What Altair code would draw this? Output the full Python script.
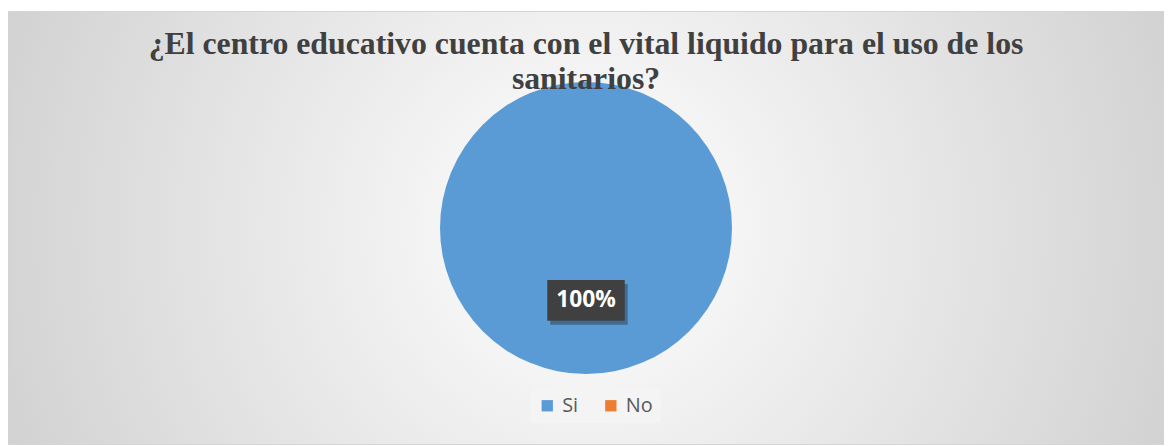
import altair as alt
import pandas as pd

categories = ["Si", "No"]
values = [100, 0]
labels = ["100%", "0%"]
colors = ["#5B9BD5", "#ED7D31"]

df = pd.DataFrame({"cat": categories, "val": values, "lab": labels,
                   "order": list(range(len(categories)))})

base = alt.Chart(df)

theta = alt.Theta("val:Q", stack=True)

bg = base.transform_filter("datum.val > 0").mark_rect(
    color=alt.Gradient(
        gradient="radial", x1=0.5, y1=0.5, r1=0, x2=0.5, y2=0.5, r2=0.72,
        stops=[alt.GradientStop(offset=0, color="#ffffff"),
               alt.GradientStop(offset=1, color="#c2c2c2")]),
    stroke="#d4d4d4", strokeWidth=1,
)

pie = base.mark_arc(outerRadius=147).encode(
    theta=theta,
    color=alt.Color("cat:N", sort=categories,
                    scale=alt.Scale(domain=categories, range=colors),
                    legend=alt.Legend(title=None, orient="none", direction="horizontal",
                                      legendX=526, legendY=380, symbolType="square",
                                      symbolSize=130, symbolStrokeWidth=0,
                                      labelFontSize=20, labelFont="Open Sans",
                                      labelColor="#595959", columnPadding=22,
                                      labelOffset=5, padding=7,
                                      fillColor="#f4f4f4")),
    order=alt.Order("order:Q"),
)

shadow = base.transform_filter("datum.val > 0").mark_point(
    shape="M-1,-0.526L1,-0.526L1,0.526L-1,0.526Z", size=6084, filled=True,
    color="#000000", opacity=0.3, yOffset=77, xOffset=3,
)

box = base.transform_filter("datum.val > 0").mark_point(
    shape="M-1,-0.526L1,-0.526L1,0.526L-1,0.526Z", size=6084, filled=True,
    color="#404040", opacity=1, yOffset=73,
)

text = base.transform_filter("datum.val > 0").mark_text(
    radius=73, font="Open Sans", fontSize=23, fontWeight="bold", color="white",
    baseline="middle",
).encode(theta=theta, text="lab:N")

chart = alt.layer(bg, pie, shadow, box, text).properties(
    width=1164, height=436,
    autosize=alt.AutoSizeParams(type="none"),
    padding={"left": 0, "top": 2, "right": 0, "bottom": 0},
    title=alt.Title(
        ["¿El centro educativo cuenta con el vital liquido para el uso de los", "sanitarios?"],
        orient="top", anchor="middle", font="Liberation Serif", fontSize=32,
        fontWeight="bold", color="#404040", baseline="alphabetic", offset=-111,
        lineHeight=36, frame="group",
    ),
).configure_view(stroke=None)

chart.save("out.html", embed_options={"renderer": "svg", "actions": False})
